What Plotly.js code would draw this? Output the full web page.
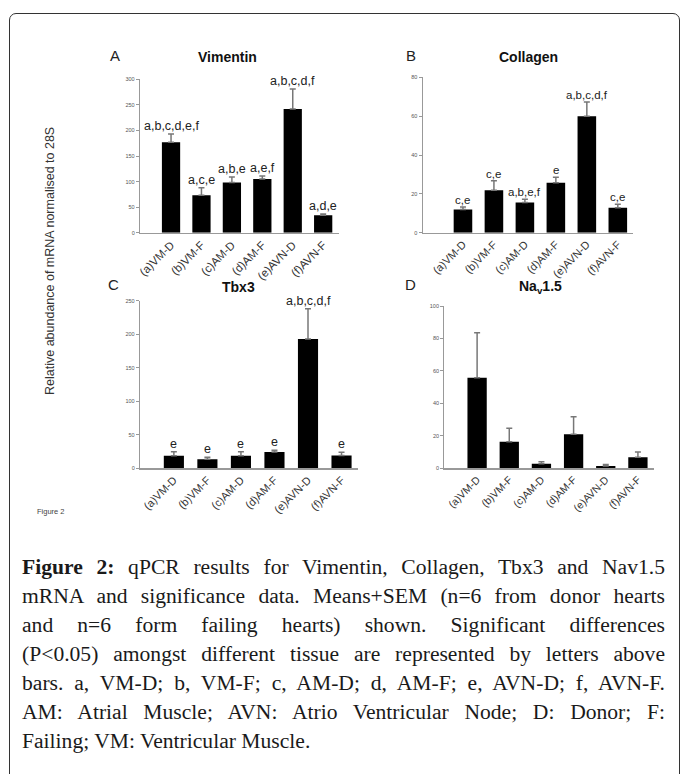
<!DOCTYPE html>
<html>
<head>
<meta charset="utf-8">
<script src="https://cdn.plot.ly/plotly-3.0.1.min.js"></script>
<style>
  html, body { margin: 0; padding: 0; background: #fff; }
  #frame { position: absolute; left: 9px; top: 13px; width: 671px; height: 800px;
           border: 1.5px solid #333; border-radius: 7px; box-sizing: border-box; }
  #chart { position: absolute; left: 0; top: 0; width: 683px; height: 774px; }
  #caption { position: absolute; left: 22px; top: 553px; width: 643px;
             font-family: "Liberation Serif", "Times New Roman", serif; font-size: 21.6px;
             color: #1a1a1a; }
  #caption .ln { height: 29px; line-height: 29px; text-align: justify; text-align-last: justify; white-space: nowrap; }
  #caption .ln.last { text-align-last: left; }
</style>
</head>
<body>
<div id="frame"></div>
<div id="chart"></div>
<div id="caption">
  <div class="ln"><b>Figure 2:</b> qPCR results for Vimentin, Collagen, Tbx3 and Nav1.5</div>
  <div class="ln">mRNA and significance data. Means+SEM (n=6 from donor hearts</div>
  <div class="ln">and n=6 form failing hearts) shown. Significant differences</div>
  <div class="ln">(P&lt;0.05) amongst different tissue are represented by letters above</div>
  <div class="ln">bars. a, VM-D; b, VM-F; c, AM-D; d, AM-F; e, AVN-D; f, AVN-F.</div>
  <div class="ln">AM: Atrial Muscle; AVN: Atrio Ventricular Node; D: Donor; F:</div>
  <div class="ln last">Failing; VM: Ventricular Muscle.</div>
</div>
<script>
// ---- data ----
const categories = ["(a)VM-D", "(b)VM-F", "(c)AM-D", "(d)AM-F", "(e)AVN-D", "(f)AVN-F"];

const vimentinMean = [177, 73, 98, 105, 242, 34];
const vimentinSem  = [16, 15, 11, 6, 39, 2.5];
const vimentinSig  = ["a,b,c,d,e,f", "a,c,e", "a,b,e", "a,e,f", "a,b,c,d,f", "a,d,e"];

const collagenMean = [12.0, 21.8, 15.5, 25.7, 59.9, 12.9];
const collagenSem  = [1.2, 5.0, 1.7, 2.8, 7.4, 1.7];
const collagenSig  = ["c,e", "c,e", "a,b,e,f", "e", "a,b,c,d,f", "c,e"];

const tbx3Mean = [18.9, 13.4, 18.9, 24.3, 192.9, 19.0];
const tbx3Sem  = [5.9, 3.0, 5.9, 2.5, 45.0, 5.0];
const tbx3Sig  = ["e", "e", "e", "e", "a,b,c,d,f", "e"];

const navMean = [55.8, 16.4, 2.8, 21.0, 1.4, 6.8];
const navSem  = [27.7, 8.2, 1.3, 10.7, 0.9, 3.2];
const navSig  = ["", "", "", "", "", ""];

const panelTitles = ["Vimentin", "Collagen", "Tbx3", "Na<sub>v</sub>1.5"];
const panelLetters = ["A", "B", "C", "D"];
const yTitle = "Relative abundance of mRNA normalised to 28S";
const figLabel = "Figure 2";

// ---- layout geometry (pixels) ----
const W = 683, H = 774;
const px = x => x / W;
const py = y => 1 - y / H;

const panels = [
  {mean: vimentinMean, sem: vimentinSem, sig: vimentinSig, x0: 140, x1: 339.3, yTop: 79.3, yBot: 232.7, ymax: 300, dtick: 50, xr: [-1.02, 5.53], tickSize: 11.5, sigSize: 12.5, titleX: 227, titleY: 57, letX: 115, letY: 55},
  {mean: collagenMean, sem: collagenSem, sig: collagenSig, x0: 422.7, x1: 633.3, yTop: 77.3, yBot: 232.7, ymax: 80, dtick: 20, xr: [-1.3, 5.5], tickSize: 11, sigSize: 11.5, titleX: 528, titleY: 57, letX: 411, letY: 55},
  {mean: tbx3Mean, sem: tbx3Sem, sig: tbx3Sig, x0: 140, x1: 358.3, yTop: 300.7, yBot: 468.3, ymax: 250, dtick: 50, xr: [-1.01, 5.5], tickSize: 11, sigSize: 12.5, titleX: 238, titleY: 287, letX: 113, letY: 284},
  {mean: navMean, sem: navSem, sig: navSig, x0: 444.3, x1: 654, yTop: 306, yBot: 468.3, ymax: 100, dtick: 20, xr: [-1.02, 5.5], tickSize: 10.5, sigSize: 11, titleX: 540, titleY: 287, letX: 410, letY: 284}
];

const data = [];
const layout = {
  width: W, height: H,
  margin: {l: 0, r: 0, t: 0, b: 0},
  paper_bgcolor: "rgba(0,0,0,0)",
  plot_bgcolor: "rgba(0,0,0,0)",
  showlegend: false,
  font: {family: "Liberation Sans, Arial, sans-serif", color: "#222"},
  annotations: [],
  bargap: 0.4
};

panels.forEach((p, i) => {
  const n = i + 1;
  const xa = "x" + (n === 1 ? "" : n), ya = "y" + (n === 1 ? "" : n);
  const xk = "xaxis" + (n === 1 ? "" : n), yk = "yaxis" + (n === 1 ? "" : n);
  data.push({
    type: "bar", x: categories, y: p.mean, xaxis: xa, yaxis: ya,
    width: 0.6,
    marker: {color: "#000", line: {width: 0}},
    error_y: {type: "data", symmetric: false, array: p.sem, arrayminus: p.sem.map(() => 0),
              color: "#777", thickness: 1.5, width: 3},
    hoverinfo: "skip"
  });
  layout[xk] = {
    domain: [px(p.x0), px(p.x1)], anchor: ya,
    type: "category", range: p.xr,
    showline: true, linecolor: "#999", linewidth: 1.2,
    showgrid: false, zeroline: false, ticks: "",
    tickangle: -45, tickfont: {size: p.tickSize, color: "#333"}
  };
  layout[yk] = {
    domain: [py(p.yBot), py(p.yTop)], anchor: xa,
    range: [0, p.ymax], dtick: p.dtick, tick0: 0,
    showline: true, linecolor: "#999", linewidth: 1.2,
    showgrid: false, zeroline: false,
    ticks: "outside", ticklen: 3, tickcolor: "#999", tickwidth: 1,
    tickfont: {size: 5.5, color: "#555"}
  };
  // significance letters
  categories.forEach((c, k) => {
    if (!p.sig[k]) return;
    layout.annotations.push({
      xref: xa, yref: ya, x: c, y: p.mean[k] + p.sem[k],
      text: p.sig[k], showarrow: false, yanchor: "bottom", yshift: -1,
      font: {size: p.sigSize, color: "#222"}
    });
  });
  // panel title
  layout.annotations.push({
    xref: "paper", yref: "paper", x: px(p.titleX), y: py(p.titleY),
    text: "<b>" + panelTitles[i] + "</b>", showarrow: false,
    xanchor: "center", yanchor: "middle", font: {size: 14, color: "#111"}
  });
  // panel letter
  layout.annotations.push({
    xref: "paper", yref: "paper", x: px(p.letX), y: py(p.letY),
    text: panelLetters[i], showarrow: false,
    xanchor: "center", yanchor: "middle", font: {size: 15, color: "#222"}
  });
});

layout.annotations.push({
  xref: "paper", yref: "paper", x: px(50), y: py(261),
  text: yTitle, textangle: -90, showarrow: false,
  xanchor: "center", yanchor: "middle", font: {size: 12.5, color: "#333"}
});
layout.annotations.push({
  xref: "paper", yref: "paper", x: px(35), y: py(511),
  text: figLabel, showarrow: false,
  xanchor: "left", yanchor: "middle", font: {size: 7.5, color: "#444"}
});

Plotly.newPlot("chart", data, layout, {staticPlot: true, displayModeBar: false});
</script>
</body>
</html>
